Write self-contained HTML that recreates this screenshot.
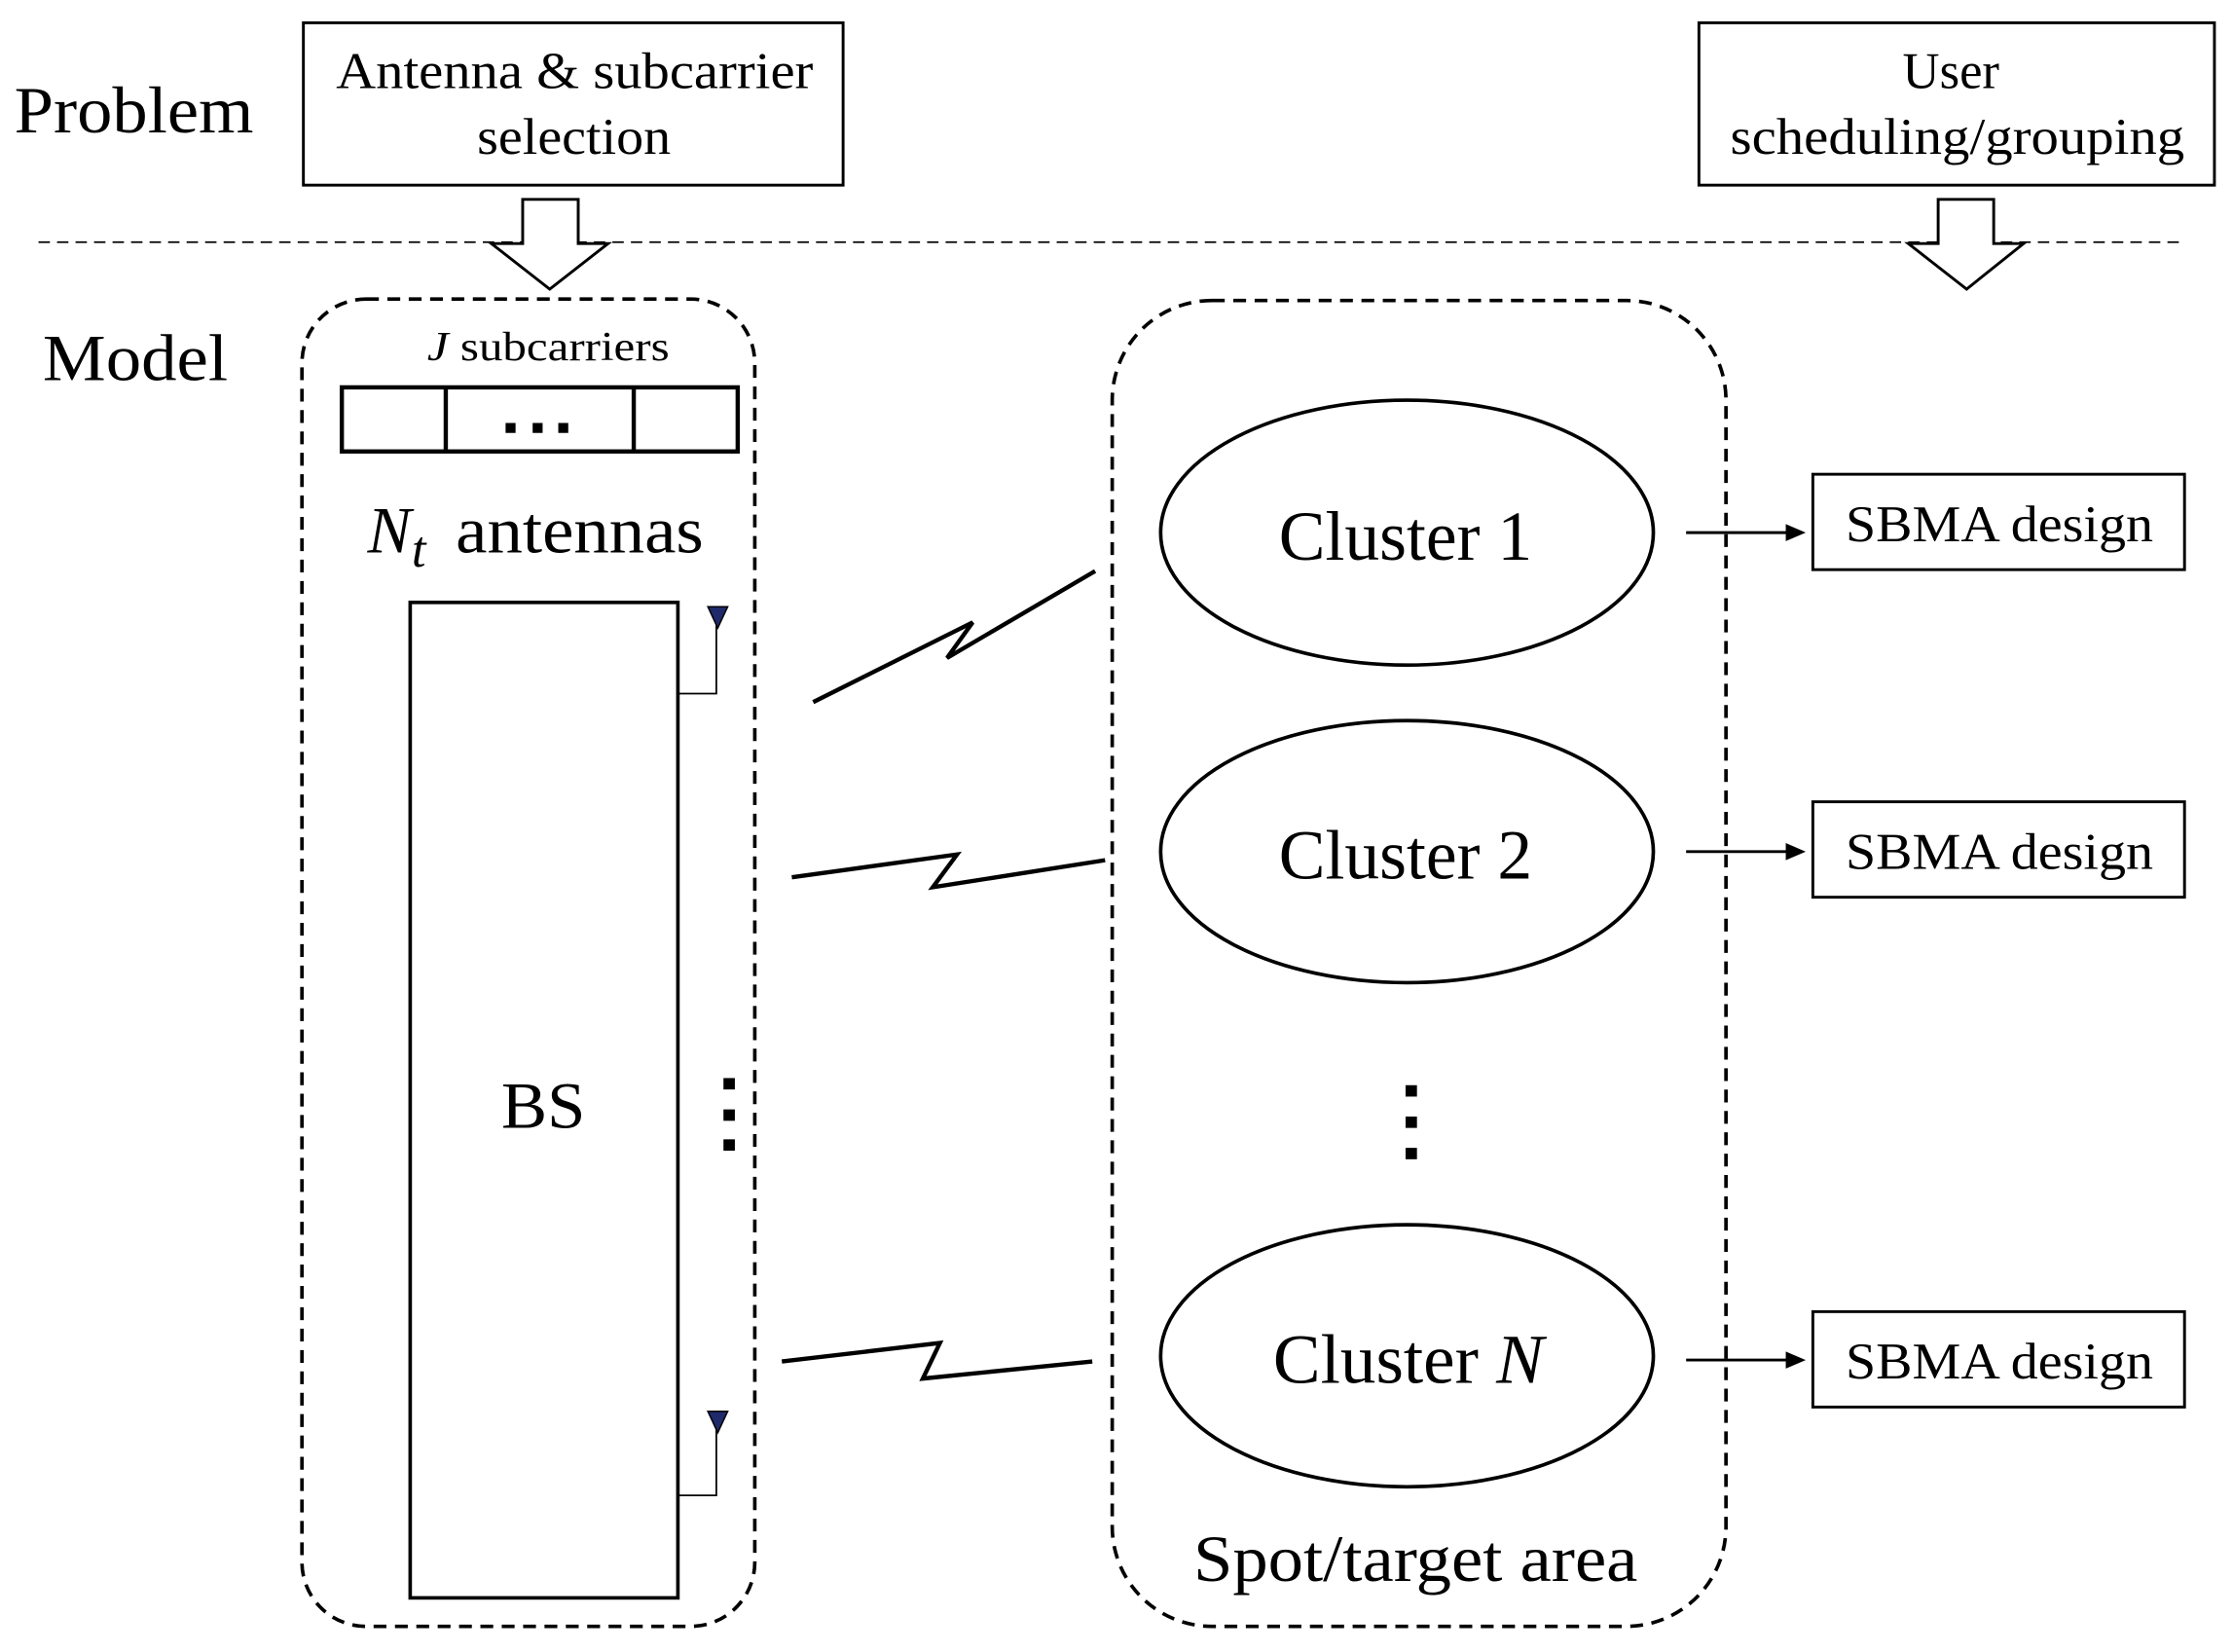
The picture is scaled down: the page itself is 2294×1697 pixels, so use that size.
<!DOCTYPE html>
<html><head><meta charset="utf-8"><style>
html,body{margin:0;padding:0;background:#fff;}
svg{display:block;}
text{font-family:"Liberation Serif",serif;fill:#000;}
</style></head><body>
<svg width="2294" height="1697" viewBox="0 0 1568 1160" xmlns="http://www.w3.org/2000/svg">
<text x="10" y="93" font-size="46" textLength="168" lengthAdjust="spacingAndGlyphs">Problem</text>
<rect x="213" y="16" width="379" height="114" fill="none" stroke="#000" stroke-width="2"/>
<text x="236" y="62" font-size="36" textLength="335" lengthAdjust="spacingAndGlyphs">Antenna &amp; subcarrier</text>
<text x="403" y="108" font-size="36" text-anchor="middle" textLength="136" lengthAdjust="spacingAndGlyphs">selection</text>
<rect x="1193" y="16" width="362" height="114" fill="none" stroke="#000" stroke-width="2"/>
<text x="1370" y="62" font-size="36" text-anchor="middle">User</text>
<text x="1215" y="108" font-size="36" textLength="319" lengthAdjust="spacingAndGlyphs">scheduling/grouping</text>
<line x1="27" y1="170" x2="1535" y2="170" stroke="#000" stroke-width="1.2" stroke-dasharray="8,5"/>
<polygon points="367,140 406,140 406,171 427,171 386,203 345,171 367,171" fill="#fff" stroke="#000" stroke-width="2"/>
<polygon points="1361,140 1400,140 1400,171 1421,171 1381,203 1340,171 1361,171" fill="#fff" stroke="#000" stroke-width="2"/>
<text x="30" y="267" font-size="46" textLength="130" lengthAdjust="spacingAndGlyphs">Model</text>
<rect x="212" y="210" width="318" height="932" rx="45" fill="none" stroke="#000" stroke-width="2.5" stroke-dasharray="9,6"/>
<text x="300" y="253" font-size="29" textLength="170" lengthAdjust="spacingAndGlyphs"><tspan font-style="italic">J</tspan> subcarriers</text>
<rect x="240" y="272" width="278" height="45" fill="none" stroke="#000" stroke-width="3"/>
<line x1="313" y1="272" x2="313" y2="317" stroke="#000" stroke-width="3"/>
<line x1="445" y1="272" x2="445" y2="317" stroke="#000" stroke-width="3"/>
<rect x="355" y="297" width="7" height="7"/><rect x="374" y="297" width="7" height="7"/><rect x="392" y="297" width="7" height="7"/>
<text x="258" y="388" font-size="46" font-style="italic">N</text>
<text x="289" y="398" font-size="36" font-style="italic">t</text>
<text x="320" y="388" font-size="46" textLength="174" lengthAdjust="spacingAndGlyphs">antennas</text>
<rect x="288" y="423" width="188" height="699" fill="none" stroke="#000" stroke-width="2.5"/>
<text x="352" y="792" font-size="46" textLength="59" lengthAdjust="spacingAndGlyphs">BS</text>
<polyline points="476,487 503,487 503,436" fill="none" stroke="#000" stroke-width="1.2"/>
<polygon points="497,426 511,426 504,441" fill="#1f2a6a" stroke="#000" stroke-width="1"/>
<polyline points="476,1050 503,1050 503,1000" fill="none" stroke="#000" stroke-width="1.2"/>
<polygon points="497,991 511,991 504,1006" fill="#1f2a6a" stroke="#000" stroke-width="1"/>
<rect x="508" y="757" width="8" height="8"/><rect x="508" y="779" width="8" height="8"/><rect x="508" y="800" width="8" height="8"/>
<rect x="781" y="211" width="431" height="931" rx="70" fill="none" stroke="#000" stroke-width="2.5" stroke-dasharray="9,6"/>
<ellipse cx="988" cy="374" rx="173" ry="93" fill="none" stroke="#000" stroke-width="2.5"/>
<ellipse cx="988" cy="598" rx="173" ry="92" fill="none" stroke="#000" stroke-width="2.5"/>
<ellipse cx="988" cy="952" rx="173" ry="92" fill="none" stroke="#000" stroke-width="2.5"/>
<text x="898" y="393" font-size="49" textLength="178" lengthAdjust="spacingAndGlyphs">Cluster 1</text>
<text x="898" y="617" font-size="49" textLength="178" lengthAdjust="spacingAndGlyphs">Cluster 2</text>
<text x="894" y="971" font-size="49" textLength="190" lengthAdjust="spacingAndGlyphs">Cluster <tspan font-style="italic">N</tspan></text>
<rect x="987" y="762" width="8" height="8"/><rect x="987" y="784" width="8" height="8"/><rect x="987" y="806" width="8" height="8"/>
<text x="838" y="1110" font-size="46" textLength="312" lengthAdjust="spacingAndGlyphs">Spot/target area</text>
<polyline points="571,493 683,437 665,462 769,401" fill="none" stroke="#000" stroke-width="3"/>
<polyline points="556,616 672,600 655,623 776,604" fill="none" stroke="#000" stroke-width="3"/>
<polyline points="549,956 660,943 648,968 767,956" fill="none" stroke="#000" stroke-width="3"/>
<g stroke="#000" stroke-width="2">
<line x1="1184" y1="374" x2="1258" y2="374"/><line x1="1184" y1="598" x2="1258" y2="598"/><line x1="1184" y1="955" x2="1258" y2="955"/>
</g>
<polygon points="1268,374 1254,368 1254,380"/><polygon points="1268,598 1254,592 1254,604"/><polygon points="1268,955 1254,949 1254,961"/>
<rect x="1273" y="333" width="261" height="67" fill="none" stroke="#000" stroke-width="2"/>
<rect x="1273" y="563" width="261" height="67" fill="none" stroke="#000" stroke-width="2"/>
<rect x="1273" y="921" width="261" height="67" fill="none" stroke="#000" stroke-width="2"/>
<text x="1296" y="380" font-size="36" textLength="216" lengthAdjust="spacingAndGlyphs">SBMA design</text>
<text x="1296" y="610" font-size="36" textLength="216" lengthAdjust="spacingAndGlyphs">SBMA design</text>
<text x="1296" y="968" font-size="36" textLength="216" lengthAdjust="spacingAndGlyphs">SBMA design</text>
</svg>
</body></html>
